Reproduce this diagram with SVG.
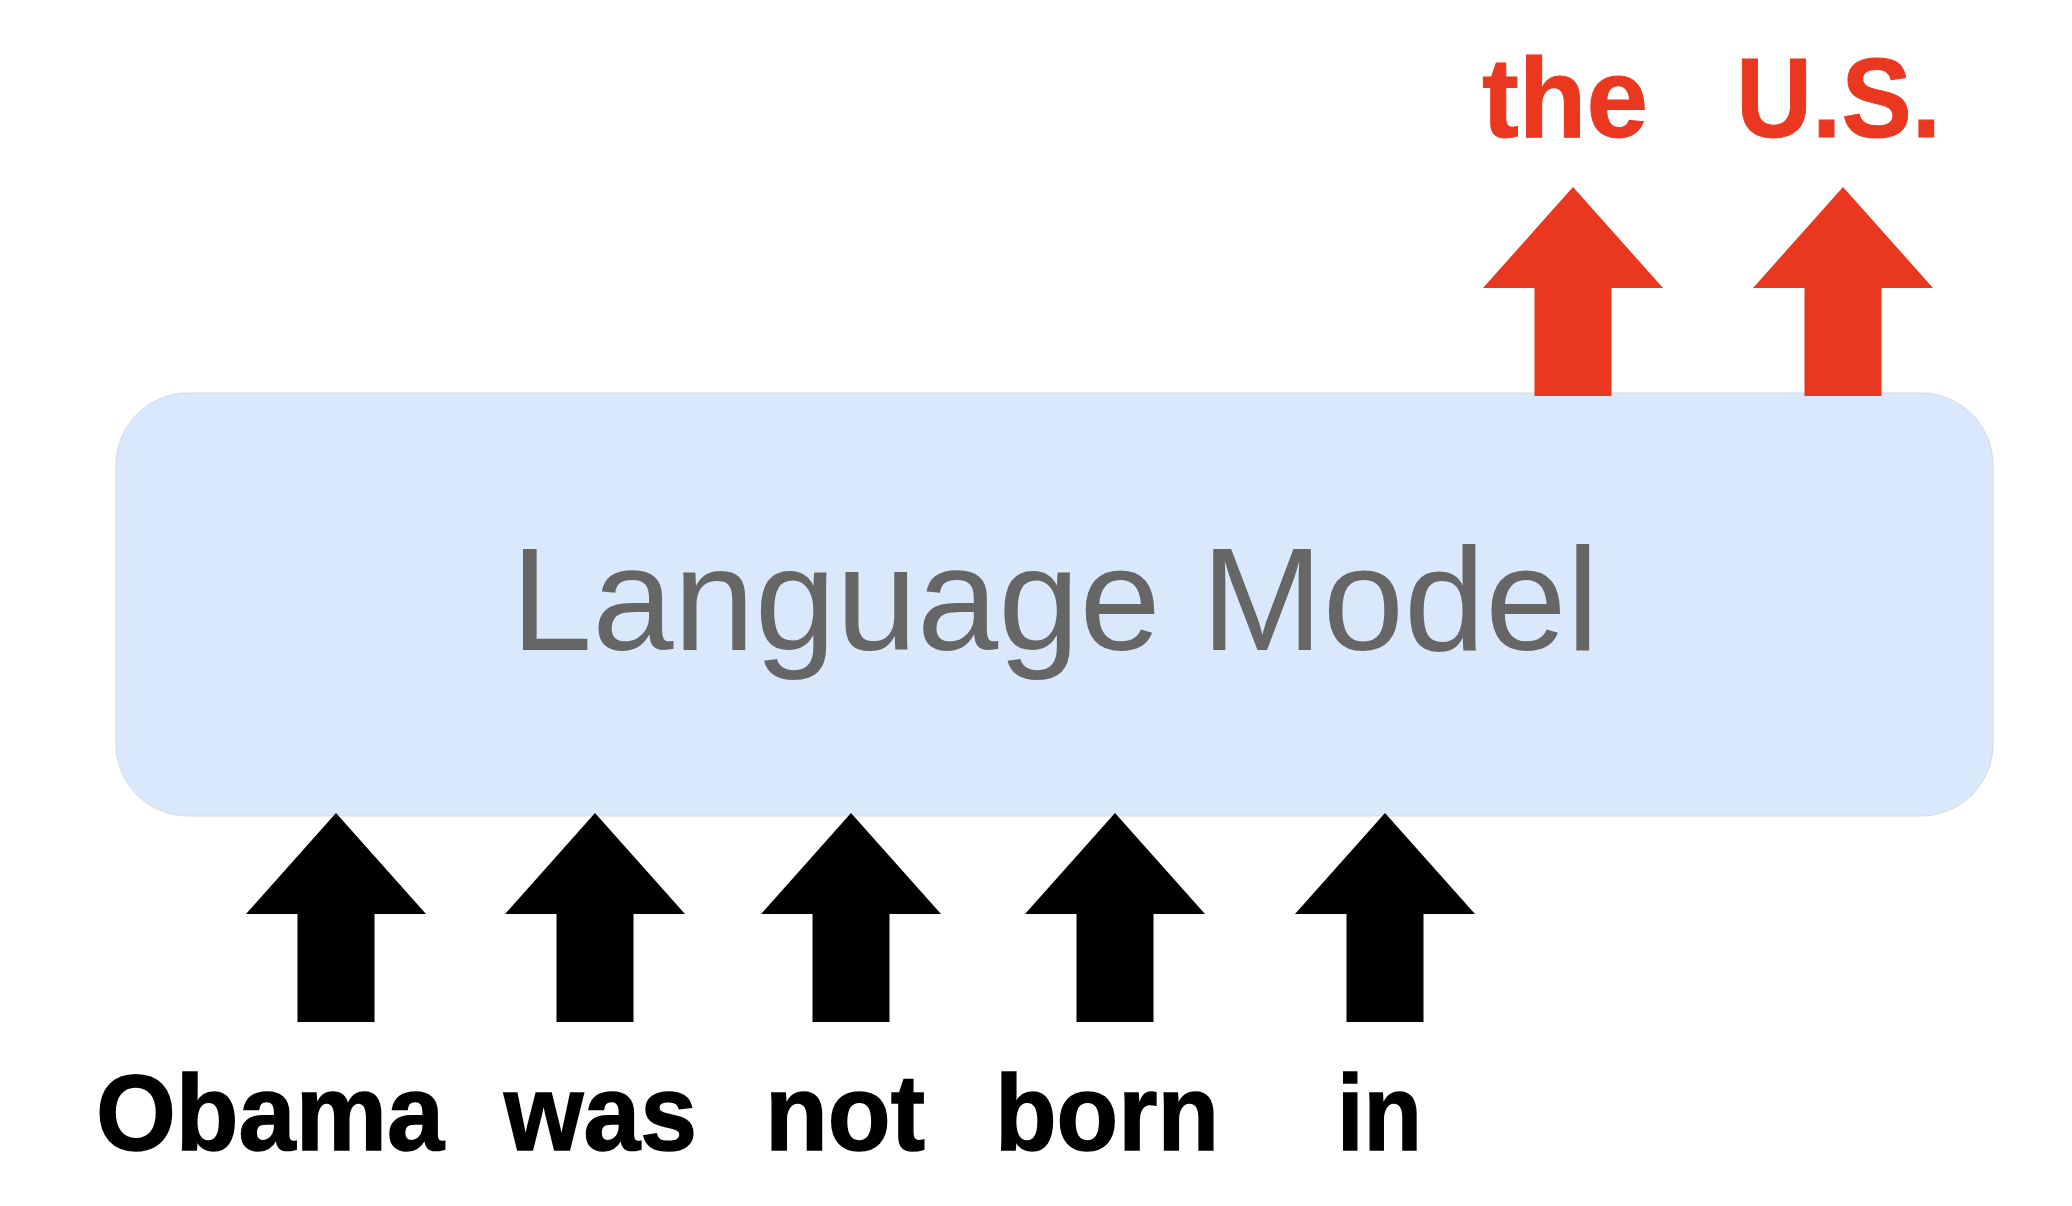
<svg xmlns="http://www.w3.org/2000/svg" width="2072" height="1206" viewBox="0 0 2072 1206">
<style>
.box{fill:#dae8fc;stroke:#d3dbe6;stroke-width:1}
.lm{font-family:"Liberation Sans",Arial,sans-serif;font-size:146px;fill:#666666}
.in{fill:#000000}
.out{fill:#ea371f}
.w{font-family:"Liberation Sans",Arial,sans-serif;font-weight:bold;font-size:108px;fill:#000000;stroke:#000000;stroke-width:1.5}
.r{font-family:"Liberation Sans",Arial,sans-serif;font-weight:bold;font-size:113px;fill:#ea371f;stroke:#ea371f;stroke-width:1}
</style>
<defs>
<path id="arr" d="M0,0 L90,101 L38.5,101 L38.5,209 L-38.5,209 L-38.5,101 L-90,101 Z"/>
</defs>
<g id="lm-node">
<rect class="box" x="116" y="393" width="1877" height="423" rx="72" ry="72"/>
<text class="lm" x="1055" y="650" text-anchor="middle">Language Model</text>
</g>
<g id="connectors">
<use href="#arr" class="in" x="336" y="813"/>
<use href="#arr" class="in" x="595" y="813"/>
<use href="#arr" class="in" x="851" y="813"/>
<use href="#arr" class="in" x="1115" y="813"/>
<use href="#arr" class="in" x="1385" y="813"/>
<use href="#arr" class="out" x="1573" y="187"/>
<use href="#arr" class="out" x="1843" y="187"/>
</g>
<g id="tok-obama"><text class="w" x="96" y="1150" textLength="348" lengthAdjust="spacingAndGlyphs">Obama</text></g>
<g id="tok-was"><text class="w" x="504" y="1150" textLength="193" lengthAdjust="spacingAndGlyphs">was</text></g>
<g id="tok-not"><text class="w" x="765" y="1150" textLength="160" lengthAdjust="spacingAndGlyphs">not</text></g>
<g id="tok-born"><text class="w" x="995" y="1150" textLength="224" lengthAdjust="spacingAndGlyphs">born</text></g>
<g id="tok-in"><text class="w" x="1337" y="1150" textLength="85" lengthAdjust="spacingAndGlyphs">in</text></g>
<g id="tok-the"><text class="r" x="1482" y="137" textLength="166" lengthAdjust="spacingAndGlyphs">the</text></g>
<g id="tok-us"><text class="r" x="1736" y="137" textLength="205" lengthAdjust="spacingAndGlyphs">U.S.</text></g>
</svg>
